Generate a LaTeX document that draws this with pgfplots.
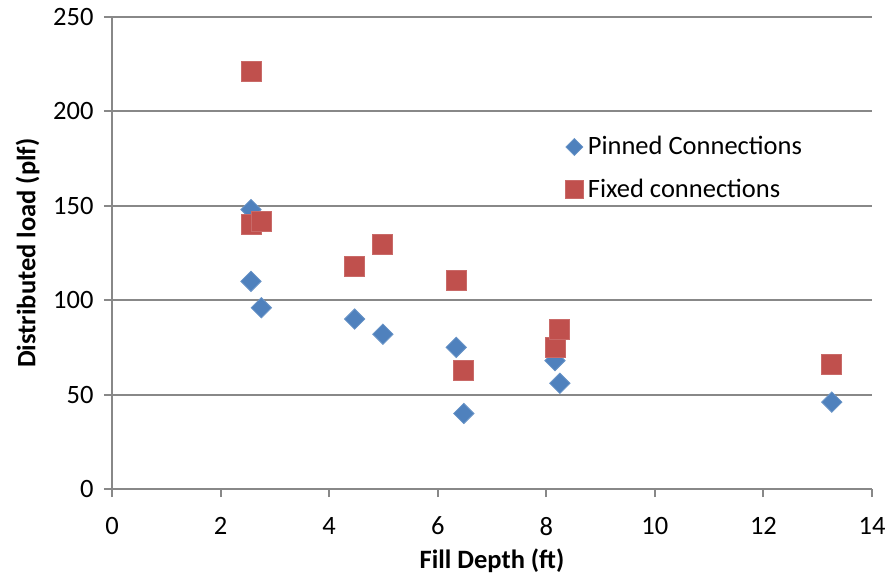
\documentclass[border=0pt]{standalone}
\usepackage{pgfplots}
\pgfplotsset{compat=1.18}
\usepackage{fontspec}
\setmainfont{Carlito}

\definecolor{pinblue}{HTML}{4F81BD}
\definecolor{fixred}{HTML}{C0504D}
\definecolor{gridgray}{HTML}{888888}

\begin{document}
\begin{tikzpicture}
\begin{axis}[
  name=ax,
  scale only axis,
  width=380pt, height=236pt,
  xmin=0, xmax=14, ymin=0, ymax=250,
  xtick={0,2,...,14}, ytick={0,50,...,250},
  axis x line=bottom, axis y line=left,
  axis line style={-, gridgray, line width=1pt},
  tick style={gridgray, line width=1pt},
  tick align=outside, major tick length=4pt,
  ymajorgrids,
  grid style={gridgray, line width=1pt},
  /pgf/number format/assume math mode=true,
  ticklabel style={font=\fontsize{13.25}{16}\selectfont},
  xticklabel style={yshift=-6.5pt},
  yticklabel style={xshift=-1.7pt},
  xlabel={\bfseries Fill Depth (ft)},
  ylabel={\bfseries Distributed load (plf)},
  label style={font=\fontsize{13.25}{16}\selectfont},
  xlabel style={yshift=0pt},
  ylabel style={yshift=0pt},
  legend style={draw=none, fill=none, at={(0.577,0.765)}, anchor=north west,
    font=\fontsize{13.25}{16}\selectfont, row sep=6.5pt,
    legend cell align=left},
  legend image code/.code={%
    \path (0cm,0cm) (0.46cm,0cm);
    \draw plot coordinates {(0.3cm,0cm)};},
]
\addplot[only marks, mark=square*, mark size=3.6pt,
  mark options={rotate=45, fill=pinblue, draw=pinblue!85!white, line width=0.4pt},
  legend image post style={mark size=3pt}]
  coordinates {
  (2.56,148) (2.56,110) (2.75,96) (4.47,90) (4.99,82)
  (6.34,75) (6.48,40) (8.16,68) (8.25,56) (13.26,46)
};
\addlegendentry{Pinned Connections}
\addplot[only marks, mark=square*, mark size=5pt,
  mark options={fill=fixred, draw=fixred!85!white, line width=0.4pt},
  legend image post style={mark size=4.5pt}]
  coordinates {
  (2.56,221) (2.56,140) (2.75,141.5) (4.47,118) (4.99,129.5)
  (6.34,110.5) (6.48,63) (8.16,75) (8.25,84.5) (13.26,66)
};
\addlegendentry{Fixed connections}
\end{axis}
% fixed page margins around the plot area
\pgfresetboundingbox
\path ([xshift=-56pt,yshift=-46.5pt]ax.south west)
  rectangle ([xshift=7.5pt,yshift=8.5pt]ax.north east);
\end{tikzpicture}
\end{document}
